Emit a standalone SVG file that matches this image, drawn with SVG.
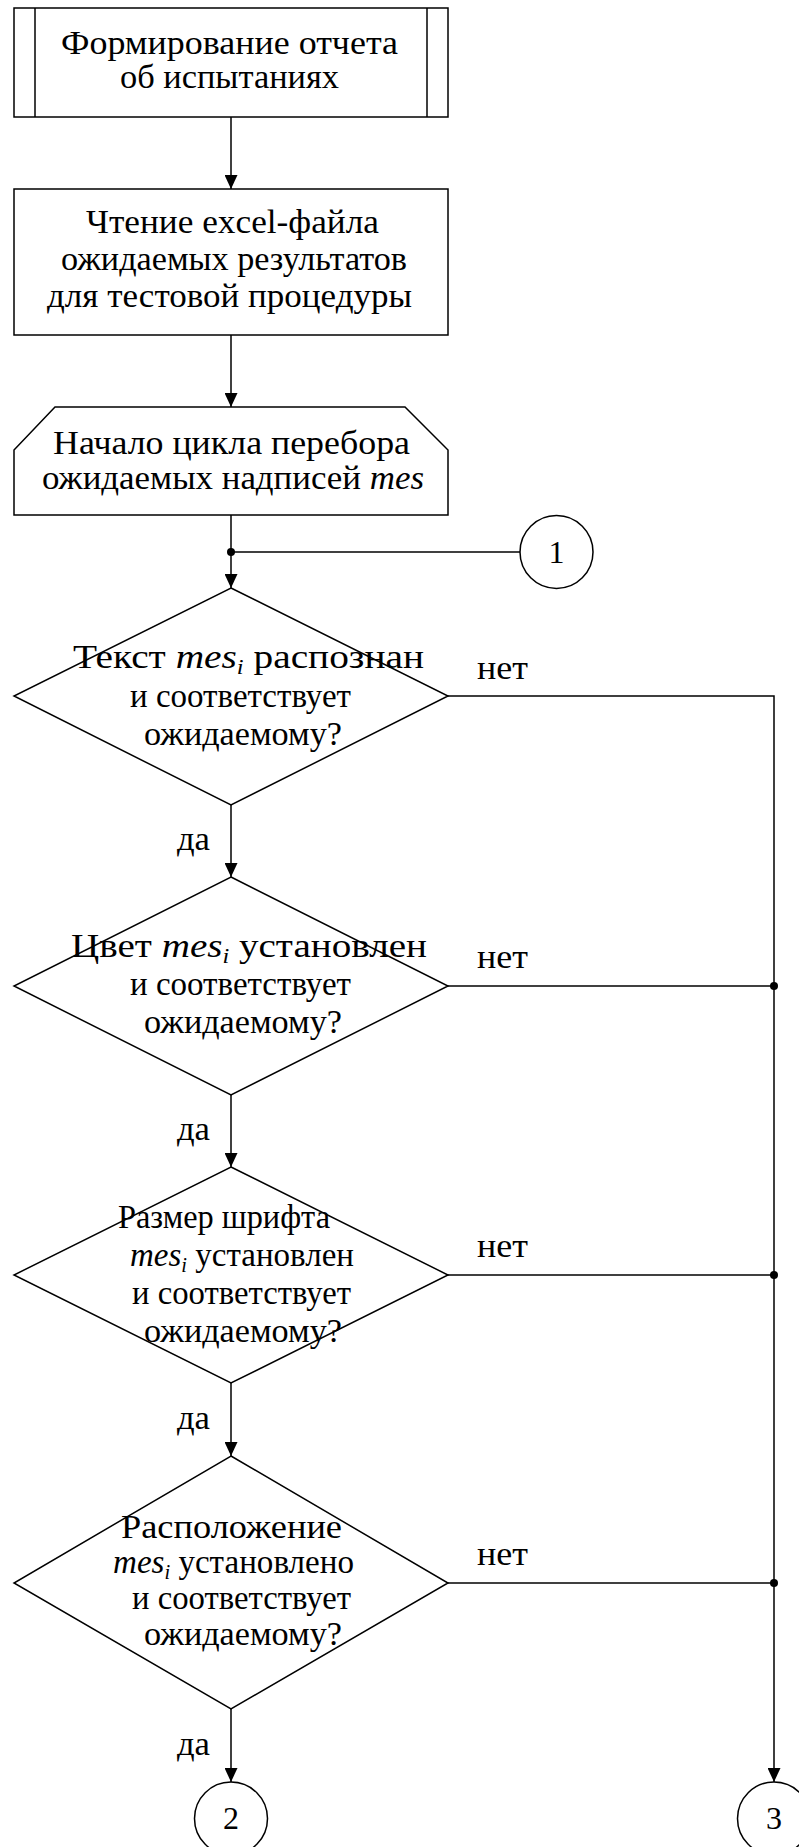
<svg xmlns="http://www.w3.org/2000/svg" width="799" height="1847" viewBox="0 0 799 1847">
<style>
.s{fill:#fff;stroke:#000;stroke-width:1.5}
.l{fill:none;stroke:#000;stroke-width:1.5}
.t{font-family:"Liberation Serif","Times New Roman",serif;font-size:34px;fill:#000}
.d{font-family:"Liberation Serif","Times New Roman",serif;font-size:34px;fill:#000}
.c{font-family:"Liberation Serif","Times New Roman",serif;font-size:32px;text-anchor:middle;fill:#000}
.lb{font-family:"Liberation Serif","Times New Roman",serif;font-size:34px;fill:#000}
.it{font-style:italic}
.sub{font-style:italic;font-size:21px}
</style>
<defs>
<marker id="ah" viewBox="0 0 14 13" refX="14" refY="6.5" markerWidth="14" markerHeight="13" markerUnits="userSpaceOnUse" orient="auto">
<path d="M0,0 L14,6.5 L0,13 z" fill="#000"/>
</marker>
</defs>
<g id="connectors">
<line class="l" x1="231" y1="117" x2="231" y2="189" marker-end="url(#ah)"/>
<line class="l" x1="231" y1="335" x2="231" y2="407" marker-end="url(#ah)"/>
<line class="l" x1="231" y1="515" x2="231" y2="588" marker-end="url(#ah)"/>
<line class="l" x1="231" y1="552" x2="520" y2="552"/>
<circle cx="231" cy="552" r="4" fill="#000"/>
<line class="l" x1="231" y1="805" x2="231" y2="877" marker-end="url(#ah)"/>
<line class="l" x1="231" y1="1095" x2="231" y2="1167" marker-end="url(#ah)"/>
<line class="l" x1="231" y1="1383" x2="231" y2="1456" marker-end="url(#ah)"/>
<line class="l" x1="231" y1="1709" x2="231" y2="1782" marker-end="url(#ah)"/>
<polyline class="l" points="448,696 774,696 774,1782" marker-end="url(#ah)"/>
<line class="l" x1="448" y1="986" x2="774" y2="986"/>
<line class="l" x1="448" y1="1275" x2="774" y2="1275"/>
<line class="l" x1="448" y1="1583" x2="774" y2="1583"/>
<circle cx="774" cy="986" r="4" fill="#000"/>
<circle cx="774" cy="1275" r="4" fill="#000"/>
<circle cx="774" cy="1583" r="4" fill="#000"/>
<text class="lb" x="477" y="679" textLength="51" lengthAdjust="spacingAndGlyphs">нет</text>
<text class="lb" x="477" y="968" textLength="51" lengthAdjust="spacingAndGlyphs">нет</text>
<text class="lb" x="477" y="1257" textLength="51" lengthAdjust="spacingAndGlyphs">нет</text>
<text class="lb" x="477" y="1565" textLength="51" lengthAdjust="spacingAndGlyphs">нет</text>
<text class="lb" x="177" y="850" textLength="33" lengthAdjust="spacingAndGlyphs">да</text>
<text class="lb" x="177" y="1140" textLength="33" lengthAdjust="spacingAndGlyphs">да</text>
<text class="lb" x="177" y="1429" textLength="33" lengthAdjust="spacingAndGlyphs">да</text>
<text class="lb" x="177" y="1755" textLength="33" lengthAdjust="spacingAndGlyphs">да</text>
</g>
<g id="n1">
<rect class="s" x="14" y="8" width="434" height="109"/>
<line class="l" x1="35" y1="8" x2="35" y2="117"/>
<line class="l" x1="427" y1="8" x2="427" y2="117"/>
<text class="t" x="61" y="54" textLength="337" lengthAdjust="spacingAndGlyphs">Формирование отчета</text>
<text class="t" x="120" y="88" textLength="219" lengthAdjust="spacingAndGlyphs">об испытаниях</text>
</g>
<g id="n2">
<rect class="s" x="14" y="189" width="434" height="146"/>
<text class="t" x="86" y="233" textLength="293" lengthAdjust="spacingAndGlyphs">Чтение excel-файла</text>
<text class="t" x="61" y="270" textLength="346" lengthAdjust="spacingAndGlyphs">ожидаемых результатов</text>
<text class="t" x="47" y="307" textLength="365" lengthAdjust="spacingAndGlyphs">для тестовой процедуры</text>
</g>
<g id="n3">
<polygon class="s" points="55,407 405,407 448,450 448,515 14,515 14,450"/>
<text class="t" x="53" y="454" textLength="357" lengthAdjust="spacingAndGlyphs">Начало цикла перебора</text>
<text class="t" x="42" y="489" textLength="382" lengthAdjust="spacingAndGlyphs">ожидаемых надписей <tspan class="it">mes</tspan></text>
</g>
<g id="c1">
<circle class="s" cx="556.5" cy="552" r="36.5"/>
<text class="c" x="556.5" y="563">1</text>
</g>
<g id="d1">
<polygon class="s" points="231,588 448,696 231,805 14,696"/>
<text class="d" x="73" y="668" textLength="351" lengthAdjust="spacingAndGlyphs">Текст <tspan class="it">mes</tspan><tspan class="sub" dy="6">i</tspan><tspan dy="-6"> распознан</tspan></text>
<text class="d" x="130" y="707" textLength="221" lengthAdjust="spacingAndGlyphs">и соответствует</text>
<text class="d" x="144" y="745" textLength="198" lengthAdjust="spacingAndGlyphs">ожидаемому?</text>
</g>
<g id="d2">
<polygon class="s" points="231,877 448,986 231,1095 14,986"/>
<text class="d" x="71" y="957" textLength="356" lengthAdjust="spacingAndGlyphs">Цвет <tspan class="it">mes</tspan><tspan class="sub" dy="6">i</tspan><tspan dy="-6"> установлен</tspan></text>
<text class="d" x="130" y="995" textLength="221" lengthAdjust="spacingAndGlyphs">и соответствует</text>
<text class="d" x="144" y="1033" textLength="198" lengthAdjust="spacingAndGlyphs">ожидаемому?</text>
</g>
<g id="d3">
<polygon class="s" points="231,1167 448,1275 231,1383 14,1275"/>
<text class="d" x="118" y="1228" textLength="212" lengthAdjust="spacingAndGlyphs">Размер шрифта</text>
<text class="d" x="130" y="1266" textLength="224" lengthAdjust="spacingAndGlyphs"><tspan class="it">mes</tspan><tspan class="sub" dy="6">i</tspan><tspan dy="-6"> установлен</tspan></text>
<text class="d" x="132" y="1304" textLength="219" lengthAdjust="spacingAndGlyphs">и соответствует</text>
<text class="d" x="144" y="1342" textLength="198" lengthAdjust="spacingAndGlyphs">ожидаемому?</text>
</g>
<g id="d4">
<polygon class="s" points="231,1456 448,1583 231,1709 14,1583"/>
<text class="d" x="121" y="1538" textLength="221" lengthAdjust="spacingAndGlyphs">Расположение</text>
<text class="d" x="113" y="1573" textLength="241" lengthAdjust="spacingAndGlyphs"><tspan class="it">mes</tspan><tspan class="sub" dy="6">i</tspan><tspan dy="-6"> установлено</tspan></text>
<text class="d" x="132" y="1609" textLength="219" lengthAdjust="spacingAndGlyphs">и соответствует</text>
<text class="d" x="144" y="1645" textLength="198" lengthAdjust="spacingAndGlyphs">ожидаемому?</text>
</g>
<g id="c2">
<circle class="s" cx="231" cy="1818.5" r="36.5"/>
<text class="c" x="231" y="1829">2</text>
</g>
<g id="c3">
<circle class="s" cx="774" cy="1818.5" r="36.5"/>
<text class="c" x="774" y="1829">3</text>
</g>
</svg>
